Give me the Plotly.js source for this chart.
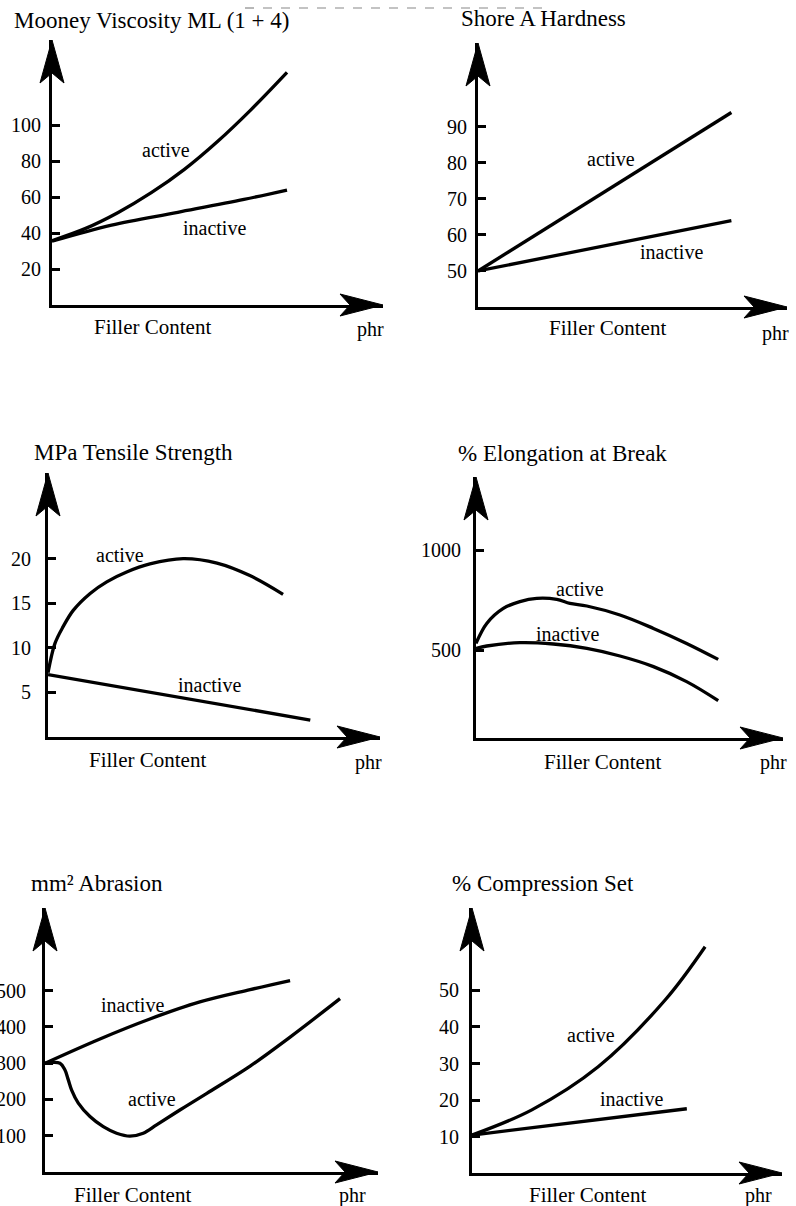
<!DOCTYPE html>
<html><head><meta charset="utf-8">
<script src="https://cdn.plot.ly/plotly-3.0.1.min.js"></script>
<style>html,body{margin:0;padding:0;background:#fff}#chart{width:796px;height:1206px}</style>
</head><body><div id="chart"></div>
<script>
// ---------------- data (filler content on a 0-100 relative scale) ----------------
const mooneyActiveX   = [0, 10, 20, 30, 40, 50, 60, 71];
const mooneyActiveY   = [35.8, 42.5, 51.5, 62.5, 75.5, 91, 108.5, 129.5];
const mooneyInactiveX = [0, 18, 38, 58, 71];
const mooneyInactiveY = [35.5, 44.5, 51.6, 58.8, 64];
const mooneyTicks     = [20, 40, 60, 80, 100];

const hardActiveX   = [0, 82];
const hardActiveY   = [50, 94];
const hardInactiveX = [0, 82];
const hardInactiveY = [50, 64];
const hardTicks     = [50, 60, 70, 80, 90];

const tensActiveX   = [0, 2.1, 4.6, 7.6, 12.7, 17.7, 23.7, 30.7, 40.7, 50.9, 60.8, 70.8];
const tensActiveY   = [7.2, 10.5, 12.4, 14.2, 16.1, 17.4, 18.5, 19.4, 20, 19.5, 18.1, 16];
const tensInactiveX = [0, 79];
const tensInactiveY = [7, 1.9];
const tensTicks     = [5, 10, 15, 20];

const elongActiveX   = [0, 3.5, 8.9, 14.3, 19.8, 26.3, 30.6, 36.1, 46.9, 57.8, 68.6, 78.9];
const elongActiveY   = [533, 633, 708, 742, 758, 753, 733, 720, 675, 608, 533, 453];
const elongInactiveX = [0, 3.5, 14.3, 25.2, 36.1, 46.9, 57.8, 68.6, 78.9];
const elongInactiveY = [508, 520, 537, 530, 508, 470, 417, 342, 247];
const elongTicks     = [500, 1000];

const abrActiveX   = [0, 4.5, 6, 7, 8, 10, 13.5, 17.5, 21.5, 25.5, 29.5, 33.5, 40.5, 48.6, 61.6, 73.6, 88.6];
const abrActiveY   = [300, 300, 281, 254, 226, 190, 153, 125, 107, 99, 107, 130, 171, 217, 292, 372, 478];
const abrInactiveX = [0, 16.5, 31.5, 46.5, 61.6, 73.6];
const abrInactiveY = [300, 367, 422, 469, 503, 528];
const abrTicks     = [100, 200, 300, 400, 500];

const compActiveX   = [0, 19.3, 40.7, 62.3, 75.2];
const compActiveY   = [10.4, 17.3, 29.1, 47.4, 62];
const compInactiveX = [0, 69.3];
const compInactiveY = [10.4, 17.6];
const compTicks     = [10, 20, 30, 40, 50];

const panelTitles = ['Mooney Viscosity ML (1 + 4)', 'Shore A Hardness', 'MPa Tensile Strength',
                     '% Elongation at Break', 'mm\u00B2 Abrasion', '% Compression Set'];
const xLabel = 'Filler Content';
const unitLabel = 'phr';
const activeLabel = 'active';
const inactiveLabel = 'inactive';

// ---------------- layout geometry (pixels) ----------------
const W = 796, H = 1206;
const FONT = 'Liberation Serif, Times New Roman, serif';
const panels = [
  {ax:52,  ay:305,  tipX:383, tipY:40,  yr:[0,147.5], ticks:mooneyTicks, standoff:4,
   series:[[mooneyActiveX,mooneyActiveY],[mooneyInactiveX,mooneyInactiveY]],
   title:[151,20], fc:[152,327], phr:[370,330], act:[166,150], inact:[214,228]},
  {ax:478, ay:307,  tipX:787, tipY:43,  yr:[40,113.3], ticks:hardTicks, standoff:4,
   series:[[hardActiveX,hardActiveY],[hardInactiveX,hardInactiveY]],
   title:[543,19], fc:[607,328], phr:[775,333], act:[611,159], inact:[671,252]},
  {ax:48,  ay:737,  tipX:380, tipY:473, yr:[0,29.6], ticks:tensTicks, standoff:10,
   series:[[tensActiveX,tensActiveY],[tensInactiveX,tensInactiveY]],
   title:[133,452], fc:[147,760], phr:[368,762], act:[120,555], inact:[210,685]},
  {ax:476, ay:738,  tipX:783, tipY:477, yr:[60,1365], ticks:elongTicks, standoff:8,
   series:[[elongActiveX,elongActiveY],[elongInactiveX,elongInactiveY]],
   title:[562,453], fc:[602,762], phr:[773,763], act:[580,589], inact:[567,634]},
  {ax:45,  ay:1172, tipX:378, tipY:908, yr:[0,728], ticks:abrTicks, standoff:12,
   series:[[abrActiveX,abrActiveY],[abrInactiveX,abrInactiveY]],
   title:[97,883], fc:[132,1195], phr:[352,1195], act:[152,1099], inact:[132,1005]},
  {ax:472, ay:1173, tipX:782, tipY:908, yr:[0,72.6], ticks:compTicks, standoff:6,
   series:[[compActiveX,compActiveY],[compInactiveX,compInactiveY]],
   title:[543,883], fc:[587,1195], phr:[758,1195], act:[591,1035], inact:[631,1099]}
];

const PX = p => p / W;
const PY = p => 1 - p / H;

const traces = [];
const layout = {
  width: W, height: H, autosize: false,
  margin: {l:0, r:0, t:0, b:0, pad:0},
  paper_bgcolor: '#fff', plot_bgcolor: 'rgba(0,0,0,0)',
  showlegend: false, annotations: [], shapes: [],
  font: {family: FONT, color: '#000'}
};

panels.forEach((p, i) => {
  const n = i + 1;
  const xa = 'x' + (n === 1 ? '' : n), ya = 'y' + (n === 1 ? '' : n);
  const xk = 'xaxis' + (n === 1 ? '' : n), yk = 'yaxis' + (n === 1 ? '' : n);
  layout[xk] = {
    domain: [PX(p.ax), PX(p.tipX)], range: [0, 100], anchor: ya,
    showline: true, linewidth: 3, linecolor: '#000', showgrid: false, zeroline: false,
    showticklabels: false, ticks: '', fixedrange: true
  };
  layout[yk] = {
    domain: [PY(p.ay), PY(p.tipY)], range: p.yr, anchor: xa,
    showline: true, linewidth: 3, linecolor: '#000', showgrid: false, zeroline: false,
    ticks: 'inside', ticklen: 8, tickwidth: 3, tickcolor: '#000',
    tickmode: 'array', tickvals: p.ticks, ticklabelstandoff: p.standoff,
    tickfont: {family: FONT, size: 20, color: '#000'}, fixedrange: true
  };
  p.series.forEach(s => {
    traces.push({x: s[0], y: s[1], xaxis: xa, yaxis: ya, mode: 'lines', type: 'scatter',
      line: {color: '#000', width: 3.3, shape: 'spline', smoothing: 1}, hoverinfo: 'skip'});
  });
  // arrowheads
  const yh = `M ${PX(p.ax)} ${PY(p.tipY)} L ${PX(p.ax-12)} ${PY(p.tipY+43)} L ${PX(p.ax)} ${PY(p.tipY+33)} L ${PX(p.ax+12)} ${PY(p.tipY+43)} Z`;
  const xh = `M ${PX(p.tipX)} ${PY(p.ay)} L ${PX(p.tipX-43)} ${PY(p.ay-11)} L ${PX(p.tipX-33)} ${PY(p.ay)} L ${PX(p.tipX-43)} ${PY(p.ay+11)} Z`;
  [yh, xh].forEach(path => layout.shapes.push({type:'path', xref:'paper', yref:'paper', path,
    fillcolor:'#000', line:{color:'#000', width:1}}));
  const ann = (txt, pos, size) => layout.annotations.push({text: txt, xref:'paper', yref:'paper',
    x: PX(pos[0]), y: PY(pos[1]), xanchor:'center', yanchor:'middle', showarrow:false,
    font:{family: FONT, size: size, color:'#000'}});
  ann(panelTitles[i], p.title, 23);
  ann(xLabel, p.fc, 21);
  ann(unitLabel, p.phr, 20);
  ann(activeLabel, p.act, 20);
  ann(inactiveLabel, p.inact, 20);
});

// faint scan line at the top
layout.shapes.push({type:'line', xref:'paper', yref:'paper', x0:PX(245), x1:PX(550), y0:PY(8), y1:PY(8),
  line:{color:'#888', width:1.2, dash:'dash'}});

Plotly.newPlot('chart', traces, layout, {staticPlot: true, displayModeBar: false});
</script>
</body></html>
